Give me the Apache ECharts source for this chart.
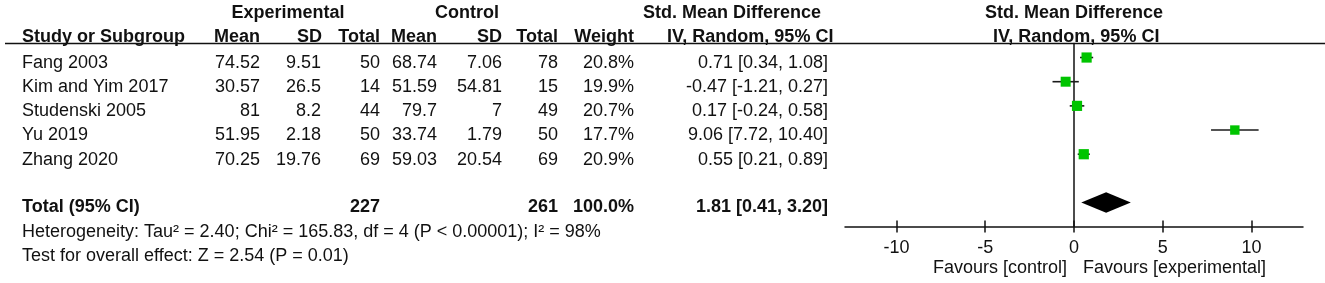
<!DOCTYPE html>
<html><head><meta charset="utf-8">
<script src="https://cdn.jsdelivr.net/npm/echarts@6/dist/echarts.min.js"></script>
<style>html,body{margin:0;padding:0;background:#fff}#c{width:1325px;height:283px}</style>
</head><body><div id="c"></div>
<script>
// ---- data ----
const studies = ['Fang 2003', 'Kim and Yim 2017', 'Studenski 2005', 'Yu 2019', 'Zhang 2020'];
const expMean = [74.52, 30.57, 81, 51.95, 70.25];
const expSD = [9.51, 26.5, 8.2, 2.18, 19.76];
const expTotal = [50, 14, 44, 50, 69];
const ctrlMean = [68.74, 51.59, 79.7, 33.74, 59.03];
const ctrlSD = [7.06, 54.81, 7, 1.79, 20.54];
const ctrlTotal = [78, 15, 49, 50, 69];
const weights = [20.8, 19.9, 20.7, 17.7, 20.9];
const smd = [0.71, -0.47, 0.17, 9.06, 0.55];
const ciLow = [0.34, -1.21, -0.24, 7.72, 0.21];
const ciHigh = [1.08, 0.27, 0.58, 10.40, 0.89];
const totalLabel = 'Total (95% CI)';
const totalExp = 227;
const totalCtrl = 261;
const totalWeight = 100.0;
const pooledEst = 1.81;
const pooledLow = 0.41;
const pooledHigh = 3.20;
const heterogeneity = 'Heterogeneity: Tau² = 2.40; Chi² = 165.83, df = 4 (P < 0.00001); I² = 98%';
const overallEffect = 'Test for overall effect: Z = 2.54 (P = 0.01)';
const xTicks = [-10, -5, 0, 5, 10];
const favours = ['Favours [control]', 'Favours [experimental]'];
const headerTop = ['Experimental', 'Control', 'Std. Mean Difference'];
const headerCols = ['Study or Subgroup', 'Mean', 'SD', 'Total', 'Mean', 'SD', 'Total', 'Weight', 'IV, Random, 95% CI'];
const plotHeader = ['Std. Mean Difference', 'IV, Random, 95% CI'];

// ---- layout ----
const FONT = '"Liberation Sans", Arial, Helvetica, sans-serif';
const FS = 18;
const colRight = [260, 321, 380, 437, 502, 558, 634, 828];
const rowTextY = [63, 87, 111.5, 135.5, 160];
const totalTextY = 207;
const totalRow = 6;

const chart = echarts.init(document.getElementById('c'), null, {renderer: 'canvas'});

function txt(s, x, y, align, bold) {
  return {type: 'text', x: x, y: y, silent: true,
    style: {text: s, fill: '#111', align: align, verticalAlign: 'middle',
      font: (bold ? 'bold ' : '') + FS + 'px ' + FONT}};
}
const f2 = v => v.toFixed(2);
const g = [];
// header
g.push(txt(headerTop[0], 288, 13, 'center', true));
g.push(txt(headerTop[1], 467, 13, 'center', true));
g.push(txt(headerTop[2], 643, 13, 'left', true));
g.push(txt(headerCols[0], 22, 37, 'left', true));
for (let k = 1; k <= 7; k++) g.push(txt(headerCols[k], colRight[k - 1] + (k === 2 ? 1 : 0), 37, 'right', true));
g.push(txt(headerCols[8], 667, 37, 'left', true));
g.push(txt(plotHeader[0], 985, 13, 'left', true));
g.push(txt(plotHeader[1], 993, 37, 'left', true));
// rows
studies.forEach((s, i) => {
  const y = rowTextY[i];
  g.push(txt(s, 22, y, 'left', false));
  const vals = [String(expMean[i]), String(expSD[i]), String(expTotal[i]), String(ctrlMean[i]),
    String(ctrlSD[i]), String(ctrlTotal[i]), weights[i].toFixed(1) + '%',
    f2(smd[i]) + ' [' + f2(ciLow[i]) + ', ' + f2(ciHigh[i]) + ']'];
  vals.forEach((v, k) => g.push(txt(v, colRight[k], y, 'right', false)));
});
// total
g.push(txt(totalLabel, 22, totalTextY, 'left', true));
g.push(txt(String(totalExp), colRight[2], totalTextY, 'right', true));
g.push(txt(String(totalCtrl), colRight[5], totalTextY, 'right', true));
g.push(txt(totalWeight.toFixed(1) + '%', colRight[6], totalTextY, 'right', true));
g.push(txt(f2(pooledEst) + ' [' + f2(pooledLow) + ', ' + f2(pooledHigh) + ']', colRight[7], totalTextY, 'right', true));
g.push(txt(heterogeneity, 22, 232, 'left', false));
g.push(txt(overallEffect, 22, 256, 'left', false));
g.push(txt(favours[0], 1067, 268, 'right', false));
g.push(txt(favours[1], 1083, 268, 'left', false));
// header rule
g.push({type: 'line', silent: true, shape: {x1: 5, y1: 43.5, x2: 1325, y2: 43.5}, style: {stroke: '#111', lineWidth: 1.5}});

const axisCommon = {type: 'value', min: -12.9, max: 12.9, splitLine: {show: false}};

chart.setOption({
  animation: false,
  backgroundColor: '#fff',
  grid: {left: 845, right: 22, top: 43.5, bottom: 56.5, containLabel: false},
  xAxis: [
    Object.assign({}, axisCommon, {
      position: 'bottom',
      axisLine: {show: true, onZero: false, lineStyle: {color: '#111', width: 1.5}},
      axisTick: {show: true, customValues: xTicks, length: 6, lineStyle: {color: '#111', width: 1.5}},
      axisLabel: {show: true, customValues: xTicks, fontSize: FS, fontFamily: FONT, color: '#111', margin: 13}
    }),
    Object.assign({}, axisCommon, {
      position: 'bottom',
      axisLine: {show: false, onZero: false},
      axisTick: {show: true, inside: true, customValues: xTicks, length: 6, lineStyle: {color: '#111', width: 1.5}},
      axisLabel: {show: false}
    })
  ],
  yAxis: {
    type: 'value', inverse: true, min: -0.58, max: 6.99,
    axisLine: {show: true, onZero: true, lineStyle: {color: '#111', width: 1.5}},
    axisTick: {show: false}, axisLabel: {show: false}, splitLine: {show: false}
  },
  graphic: g,
  series: [
    {
      type: 'custom', clip: false, silent: true,
      data: studies.map((s, i) => [ciLow[i], ciHigh[i], i]),
      renderItem: (params, api) => {
        const p1 = api.coord([api.value(0), api.value(2)]);
        const p2 = api.coord([api.value(1), api.value(2)]);
        return {type: 'line', shape: {x1: p1[0], y1: p1[1], x2: p2[0], y2: p2[1]},
          style: {stroke: '#1a1a1a', lineWidth: 1.6}};
      }
    },
    {
      type: 'scatter', silent: true, symbol: 'rect',
      data: studies.map((s, i) => [smd[i], i, weights[i]]),
      symbolSize: v => 10 * Math.sqrt(v[2] / 20),
      itemStyle: {color: '#00c400', opacity: 1}
    },
    {
      type: 'custom', clip: false, silent: true,
      data: [[pooledEst, pooledLow, pooledHigh, totalRow]],
      renderItem: (params, api) => {
        const c = api.coord([api.value(0), api.value(3)]);
        const l = api.coord([api.value(1), api.value(3)]);
        const r = api.coord([api.value(2), api.value(3)]);
        const h = 10.3;
        return {type: 'polygon',
          shape: {points: [[l[0], c[1]], [c[0], c[1] - h], [r[0], c[1]], [c[0], c[1] + h]]},
          style: {fill: '#000'}};
      }
    }
  ]
});
</script>
</body></html>
